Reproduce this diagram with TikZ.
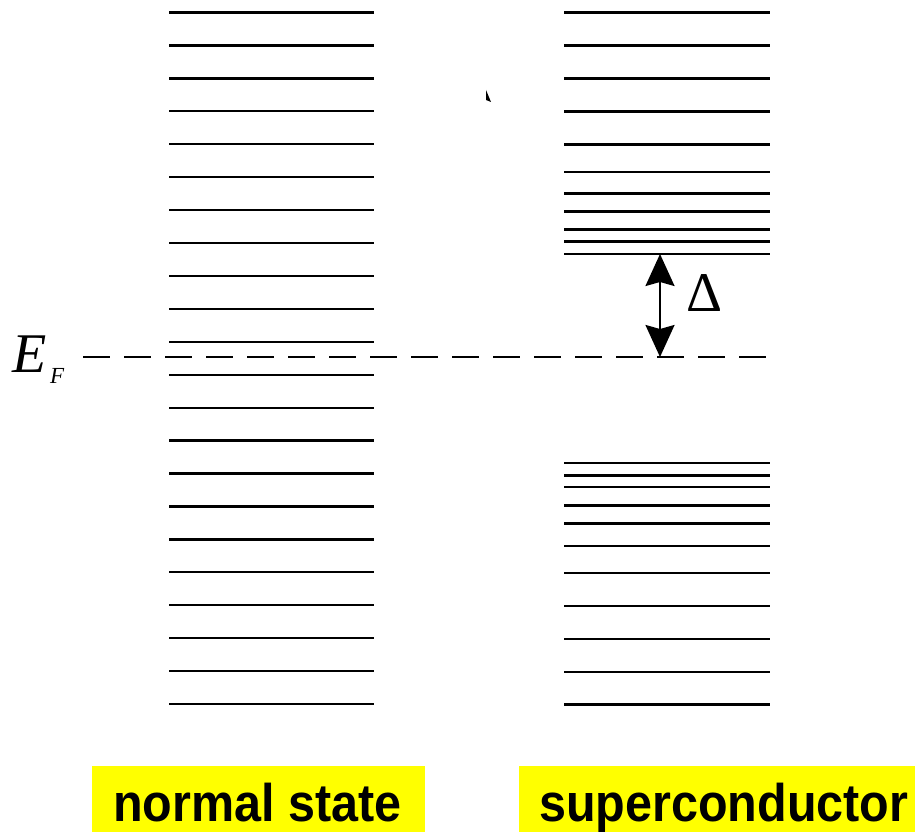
\documentclass[tikz,border=0pt]{standalone}
\usepackage{fontspec}
\usepackage{graphicx}
\usetikzlibrary{arrows.meta}
\setmainfont{Liberation Serif}
\newfontfamily\lsans{Liberation Sans}
\definecolor{labelyellow}{RGB}{255,255,0}
\tikzset{
  level/.style={line width=2.3pt, black},
  fermi/.style={line width=2.3pt, black, dash pattern=on 27pt off 14pt},
  gaparrow/.style={line width=2pt, {Stealth[length=32pt,width=29pt,inset=4pt]}-{Stealth[length=32pt,width=29pt,inset=4pt]}},
  labelbox/.style={fill=labelyellow, draw=none, inner sep=0pt, minimum height=66pt},
  labeltext/.style={font=\lsans\bfseries\fontsize{53}{60}\selectfont, inner sep=0pt, anchor=base west},
  symb/.style={font=\fontsize{56}{60}\selectfont, inner sep=0pt}
}
\begin{document}
\begin{tikzpicture}[x=1pt,y=-1pt]
\useasboundingbox (0,0) rectangle (915,832);
% normal state levels
\foreach \i in {0,...,21} {
  \draw[level] (169,{12.5+32.93*\i}) -- (374,{12.5+32.93*\i});
}
% superconductor levels
\foreach \y in {12.5,45.5,78.5,111.5,144.5,172,193.5,211.5,229.5,241.5,254,
                463,475.5,487,505.5,523.5,546,573,606,639,672,704.5} {
  \draw[level] (564,\y) -- (770,\y);
}
% Fermi level
\node[symb, anchor=base west, font=\itshape\fontsize{56}{60}\selectfont] (E) at (12,372) {E};
\node[symb, anchor=base west, font=\itshape\fontsize{23}{26}\selectfont] (F) at (50,383) {F};
\coordinate (fl) at (83,357);
\coordinate (fr) at (770,357);
\draw[fermi] (fl) -- (fr);
% gap arrow
\coordinate (gtop) at (660,254);
\coordinate (gbot) at (660,357);
\draw[gaparrow] (gbot) -- (gtop);
\node[symb, anchor=base] (Delta) at (704.5,311) {Δ};
% small mark
\fill (486,90) -- (486,100) -- (491,102) -- cycle;
% labels
\node[labelbox, anchor=north west, minimum width=333pt] (nbox) at (92,766) {};
\node[labelbox, anchor=north west, minimum width=397pt] (sbox) at (519,766) {};
\node[labeltext] (ntext) at (113,821) {\scalebox{0.915}[1]{normal state}};
\node[labeltext] (stext) at (539,821) {\scalebox{0.915}[1]{superconductor}};
\end{tikzpicture}
\end{document}
